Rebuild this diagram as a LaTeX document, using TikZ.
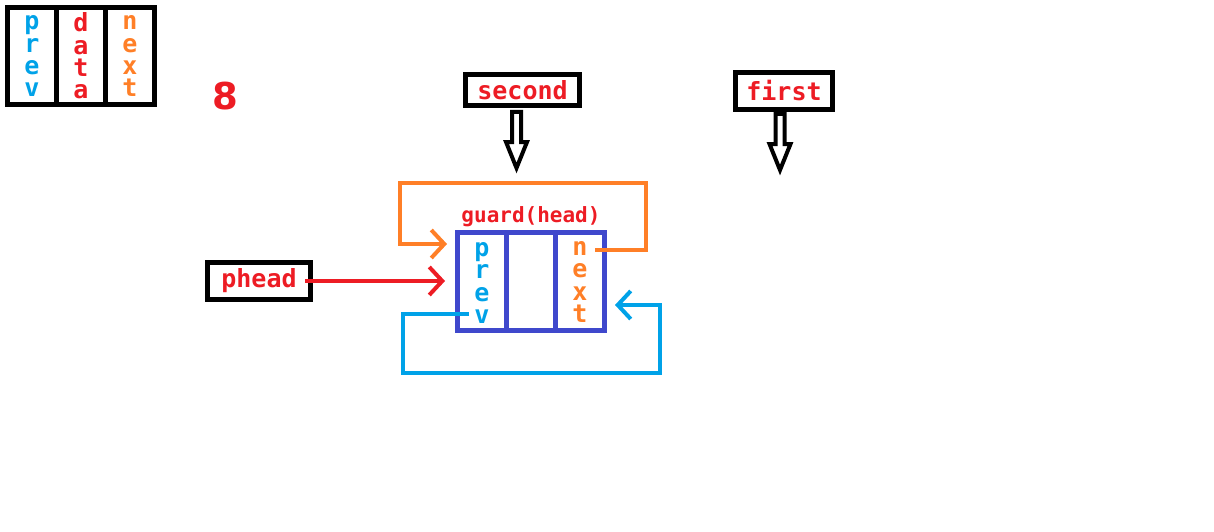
\documentclass[tikz,border=0pt]{standalone}
\usepackage{fontspec}
\setmainfont{DejaVu Sans}
\newfontfamily\monof{DejaVu Sans Mono}
\usetikzlibrary{positioning,arrows.meta}
\definecolor{pblue}{RGB}{0,162,232}
\definecolor{pred}{RGB}{237,28,36}
\definecolor{porange}{RGB}{255,127,39}
\definecolor{gblue}{RGB}{63,72,204}

\begin{document}
\begin{tikzpicture}[x=1pt,y=-1pt,
    cell/.style={draw,line width=5pt,minimum width=49pt,minimum height=97pt,
      inner sep=0pt,outer sep=0pt},
    letter/.style={anchor=base,inner sep=0pt,text height=12pt,text depth=2pt,
      font={\monof\bfseries\fontsize{25}{25}\selectfont}},
    tag/.style={draw,line width=5pt,inner sep=0pt,text=pred,
      font={\monof\bfseries\fontsize{25}{25}\selectfont}},
    link/.style={line width=4pt,-{Straight Barb[length=13pt,width=28pt]}},
    hollow/.style={draw,line width=4pt}]
  \useasboundingbox (0,0) rectangle (1214,532);

  % Legend
  \node[cell] (lprev) at (32,56) {};
  \node[cell,right=0pt of lprev] (ldata) {};
  \node[cell,right=0pt of ldata] (lnext) {};
  \node[text=pred,font={\bfseries\fontsize{37}{37}\selectfont}] (eight) at (225,96) {8};

  % Pointers
  \node[tag,minimum width=114pt,minimum height=31pt] (second) at (522.5,90) {second};
  \node[tag,minimum width=97pt,minimum height=37pt] (first) at (784,91) {first};
  \node[tag,minimum width=103pt,minimum height=37pt] (phead) at (259,281) {phead};
  \foreach \n/\dx/\dy in {second/-6/-4,first/-4/-2}
    \draw[hollow] ([xshift=\dx pt,yshift=\dy pt]\n.south) +(-4.5,0) -- +(-4.5,30)
      -- +(-10.5,30) -- +(0,56) -- +(10.5,30) -- +(4.5,30) -- +(4.5,0) -- cycle;

  % Guard
  \node[cell,draw=gblue,minimum height=98pt] (gprev) at (482,281.5) {};
  \node[cell,draw=gblue,minimum height=98pt,right=0pt of gprev] (gdata) {};
  \node[cell,draw=gblue,minimum height=98pt,right=0pt of gdata] (gnext) {};
  \node[text=pred,inner sep=0pt,font={\monof\bfseries\fontsize{21}{21}\selectfont},
    above=5pt of gdata] (guard) {guard(head)};

  % Letters, one under another
  \foreach \cellname/\col/\top/\word in {lprev/pblue/26/{p,r,e,v},
      ldata/pred/24/{d,a,t,a},lnext/porange/26/{n,e,x,t},
      gprev/pblue/25/{p,r,e,v},gnext/porange/26/{n,e,x,t}}
    \foreach \c [count=\i] in \word
      \node[letter,text=\col] (\cellname\i)
        at ([yshift={\top pt-22.3pt*(\i-1)}]\cellname.center) {\c};

  \coordinate (nout) at (595,250);
  \coordinate (nin) at (447,244);
  \coordinate (pout) at (469,314);
  \coordinate (pin) at (615,305);
  \coordinate (hin) at (445,281);

  \draw[link,porange] (nout) -- (646,250) |- (400,183) |- (nin);
  \draw[link,pblue] (pout) -- (403,314) |- (660,373) |- (pin);
  \draw[link,pred] ([xshift=-8pt]phead.east) -- (hin);
\end{tikzpicture}
\end{document}
